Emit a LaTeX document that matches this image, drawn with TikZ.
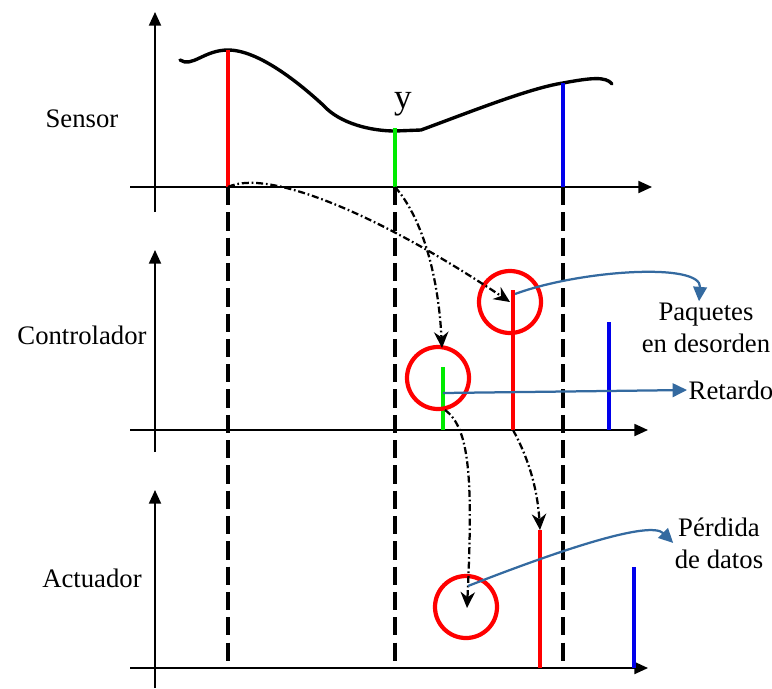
\documentclass[tikz,border=0pt]{standalone}
\usepackage{fontspec}
\setmainfont{Liberation Serif}
\usetikzlibrary{positioning,arrows.meta}
\definecolor{sampred}{RGB}{255,0,0}
\definecolor{sampgreen}{RGB}{0,235,0}
\definecolor{sampblue}{RGB}{0,0,235}
\definecolor{noteblue}{RGB}{52,106,160}

\tikzset{
  axis/.style={line width=1.3pt, -{Triangle[length=3.4mm, width=3mm]}},
  timeline/.style={line width=2.3pt, dash pattern=on 13pt off 5pt},
  sample/.style={line width=2.8pt},
  hop/.style={line width=1.6pt, dash pattern=on 5pt off 2pt on 1.2pt off 2pt, ->},
  note/.style={line width=1.6pt, noteblue, -{Triangle[length=3.6mm, width=3.4mm]}},
  ring/.style={circle, draw=sampred, line width=3pt, minimum size=15.5mm, inner sep=0pt},
  lbl/.style={align=center, inner sep=1pt}
}

\begin{document}
\begin{tikzpicture}[x=0.25mm, y=-0.25mm, font=\fontsize{19}{23}\selectfont, >={Stealth[length=4mm, width=3.6mm]}]
  \useasboundingbox (0,0) rectangle (772,688);
  % axes of the three stages
  \foreach \yb/\yt/\ya/\xe in {212/12/187/652, 452/250/430/648, 688/490/668/648}{
    \draw[axis] (155,\yb) -- (155,\yt);
    \draw[axis] (130,\ya) -- (\xe,\ya);
  }
  \node (sensor) at (82,119) {Sensor};
  \node (ctrl) at (82,335) {Controlador};
  \node (act) at (92,578) {Actuador};
  % sampling instants
  \foreach \x in {228,395,563}
    \draw[timeline] (\x,187) -- (\x,668);
  % sensor signal
  \draw[line width=2.4pt, line cap=round]
    (180,60) .. controls (192,68) and (204,50) .. (228,50)
    .. controls (258,50) and (298,82) .. (323,105)
    .. controls (340,124) and (372,131) .. (395,131)
    -- (421,130) .. controls (470,112) and (530,88) .. (563,83)
    .. controls (590,78) and (606,76) .. (612,84);
  \node[font=\fontsize{25}{28}\selectfont] (y) at (403,104) {y};
  % samples: sensor
  \coordinate (sRb) at (228,187); \coordinate (sGb) at (395,187);
  \draw[sample, sampred] (sRb) -- (228,50);
  \draw[sample, sampgreen] (sGb) -- (395,128);
  \draw[sample, sampblue] (563,187) -- (563,83);
  % samples: controller
  \coordinate (cGt) at (443,367); \coordinate (cRt) at (513,290);
  \coordinate (cRb) at (513,430);
  \draw[sample, sampgreen] (443,430) -- (cGt);
  \draw[sample, sampred] (cRb) -- (cRt);
  \draw[sample, sampblue] (609,430) -- (609,322);
  % samples: actuator
  \coordinate (aRt) at (540,530);
  \draw[sample, sampred] (540,668) -- (aRt);
  \draw[sample, sampblue] (634,668) -- (634,567);
  % marked packets
  \node[ring] (ringG) at (438,378) {};
  \node[ring] (ringR) at (510,302) {};
  \node[ring] (ringL) at (466,607) {};
  % network transfers
  \coordinate (lostp) at (467,608);
  \coordinate (cGm) at (443,393);
  \draw[hop] (sRb) .. controls (268,168) and (380,215) .. (ringR.center);
  \draw[hop] (sGb) .. controls (420,215) and (438,270) .. (442,348);
  \draw[hop] (445,410) .. controls (470,428) and (473,480) .. (lostp);
  \draw[hop] (cRb) .. controls (525,452) and (537,482) .. (aRt);
  % notes
  \node[lbl] (pkt) at (706,328) {Paquetes\\en desorden};
  \node[lbl] (delay) at (731,390) {Retardo};
  \node[lbl] (loss) at (719,543) {Pérdida\\de datos};
  \draw[note] (515,294) .. controls (580,270) and (702,262) .. (pkt.north -| 699,0);
  \draw[note] (cGm) -- (delay.west);
  \draw[note] (468,586) .. controls (560,550) and (650,520) .. (loss.west);
\end{tikzpicture}
\end{document}
